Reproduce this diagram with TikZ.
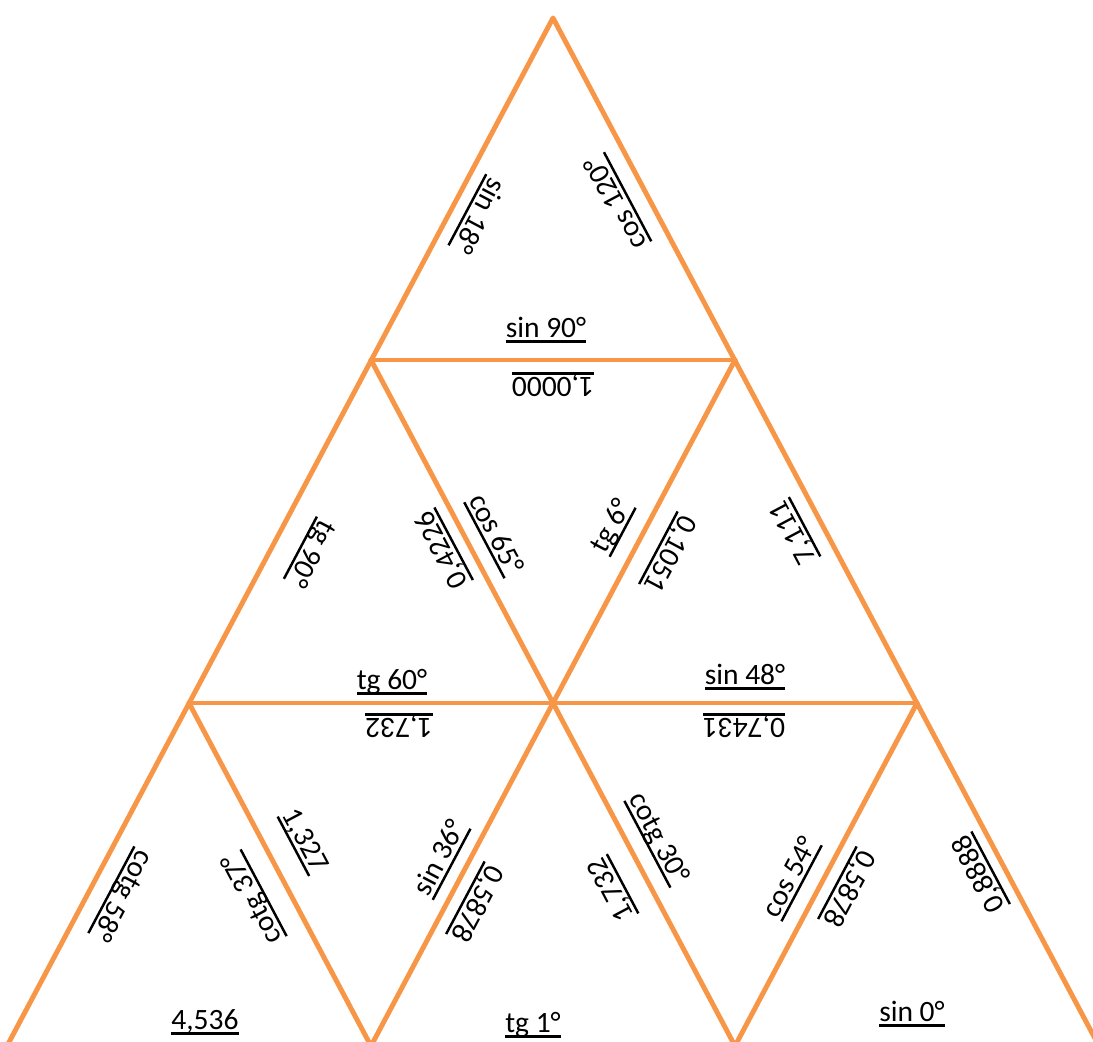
\documentclass[tikz,border=0pt]{standalone}
\usepackage{fontspec}
\setmainfont{Carlito}
\usepackage{xcolor}
\usetikzlibrary{positioning}
\definecolor{tileorange}{HTML}{F79646}
\newcommand{\uln}[1]{\setbox0=\hbox{#1}\dp0=0pt\vtop{\box0\kern1.8pt\hrule height 1.4pt}}
\tikzset{
  tileline/.style={draw=tileorange,line width=2.8pt,line join=round,line cap=round},
  lbl/.style={inner sep=0pt,anchor=south,font=\fontsize{16.8}{20}\selectfont},
}
\begin{document}
\begin{tikzpicture}[x=0.02cm,y=-0.02cm]
  \useasboundingbox (0,0) rectangle (1093,1042);
  \clip (0,0) rectangle (1093,1042);
  \coordinate (a) at (553,18);
  \coordinate (b1) at (371,360);
  \coordinate (b2) at (735,360);
  \coordinate (c1) at (189,703);
  \coordinate (c2) at (553,703);
  \coordinate (c3) at (917,703);
  \coordinate (d1) at (7,1046);
  \coordinate (d2) at (371,1046);
  \coordinate (d3) at (735,1046);
  \coordinate (d4) at (1099,1046);
  \draw[tileline] (d1) -- (a) -- (d4);
  \draw[tileline] (b1) -- (b2);
  \draw[tileline] (c1) -- (c3);
  \draw[tileline] (b1) -- (c2) -- (d3);
  \draw[tileline] (b2) -- (c2) -- (d2);
  \draw[tileline] (c1) -- (d2);
  \draw[tileline] (c3) -- (d3);
  \node[lbl,rotate=-117.95] (t1l) at (466,209) {\uln{sin 18°}};
  \node[lbl,rotate=117.95] (t1r) at (629,196) {\uln{cos 120°}};
  \node[lbl] (t1b) at (546,343) {\uln{sin 90°}};
  \node[lbl,rotate=180] (m2t) at (553,372) {\uln{1,0000}};
  \node[lbl,rotate=-117.95] (l2l) at (299,547) {\uln{tg 90°}};
  \node[lbl,rotate=117.95] (l2r) at (455,543) {\uln{0,4226}};
  \node[lbl] (l2b) at (392,695) {\uln{tg 60°}};
  \node[lbl,rotate=-62.05] (m2l) at (483,541) {\uln{cos 65°}};
  \node[lbl,rotate=62.05] (m2r) at (624,533) {\uln{tg 6°}};
  \node[lbl,rotate=-117.95] (r2l) at (657,547) {\uln{0,1051}};
  \node[lbl,rotate=117.95] (r2r) at (806,526) {\uln{7,111}};
  \node[lbl] (r2b) at (745,690) {\uln{sin 48°}};
  \node[lbl,rotate=180] (d3at) at (399,713) {\uln{1,732}};
  \node[lbl,rotate=-62.05] (d3al) at (292,847) {\uln{1,327}};
  \node[lbl,rotate=62.05] (d3ar) at (453,865) {\uln{sin 36°}};
  \node[lbl,rotate=-117.95] (u3al) at (110,889) {\uln{cotg 58°}};
  \node[lbl,rotate=117.95] (u3ar) at (265,892) {\uln{cotg 37°}};
  \node[lbl] (u3ab) at (205,1035) {\uln{4,536}};
  \node[lbl,rotate=-117.95] (u3bl) at (464,897) {\uln{0,5878}};
  \node[lbl,rotate=117.95] (u3br) at (624,883) {\uln{1,732}};
  \node[lbl] (u3bb) at (533,1038) {\uln{tg 1°}};
  \node[lbl,rotate=180] (d3bt) at (744,713) {\uln{0,7431}};
  \node[lbl,rotate=-62.05] (d3bl) at (646,845) {\uln{cotg 30°}};
  \node[lbl,rotate=62.05] (d3br) at (803,884) {\uln{cos 54°}};
  \node[lbl,rotate=-117.95] (u3cl) at (836,882) {\uln{0,5878}};
  \node[lbl,rotate=117.95] (u3cr) at (992,867) {\uln{0,8888}};
  \node[lbl] (u3cb) at (912,1027) {\uln{sin 0°}};
\end{tikzpicture}
\end{document}
